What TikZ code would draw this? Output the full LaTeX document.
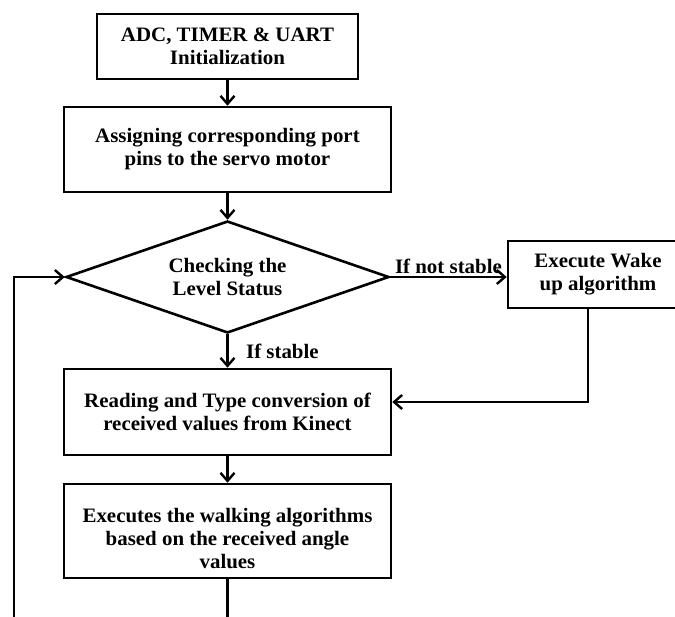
\documentclass[tikz,border=0pt]{standalone}
\usepackage{fontspec}
\setmainfont{Liberation Serif}[FakeStretch=1.02]
\usetikzlibrary{shapes.geometric,arrows.meta}
\begin{document}
\begin{tikzpicture}[x=1pt,y=-1pt,
  lbl/.style={font=\fontsize{20.5}{23}\selectfont\bfseries},
  procbox/.style={draw, line width=2.6pt, inner sep=0pt, align=center, lbl},
  decision/.style={draw, diamond, shape aspect=2.9, line width=2.6pt, inner sep=0pt, align=center, lbl},
  conn/.style={line width=2.6pt},
  arr/.style={conn, -{Straight Barb[length=8pt,width=14pt,line width=2.4pt]}}]
\useasboundingbox (0,0) rectangle (675,617);
\clip (0,0) rectangle (675,617);
\fill[white] (0,0) rectangle (675,617);
\node[procbox, minimum width=261pt, minimum height=65pt] (init) at (227.5,46.5) {ADC, TIMER \& UART\\Initialization};
\node[procbox, minimum width=327pt, minimum height=85pt] (assign) at (227.5,149.5) {Assigning corresponding port\\pins to the servo motor};
\node[decision, minimum width=323pt, minimum height=112pt] (check) at (227.5,277) {Checking the\\Level Status};
\node[procbox, minimum width=180pt, minimum height=67pt] (wake) at (598,274.5) {Execute Wake\\up algorithm};
\node[procbox, minimum width=327pt, minimum height=86pt] (read) at (227.5,412) {Reading and Type conversion of\\received values from Kinect};
\node[procbox, minimum width=327pt, minimum height=94pt] (walk) at (227.5,531) {\rule{0pt}{30pt}Executes the walking algorithms\\based on the received angle\\values};
\coordinate (loopbot) at (14,617);
\coordinate (walkbot) at (227.5,617);
\draw[arr] (init) -- (assign);
\draw[arr] (assign) -- (check);
\draw[arr] (check.east) -- node[above, lbl, inner sep=2pt] {If not stable} (check.east -| wake.west);
\draw[arr] (check) -- node[right, lbl, xshift=14pt] {If stable} (read);
\draw[arr] ([xshift=-10pt]wake.south) |- ([yshift=10pt]read.east);
\draw[arr] (read) -- (walk);
\draw[conn] (walk.south) -- (walkbot);
\draw[arr] (loopbot) |- (check.west);
\end{tikzpicture}
\end{document}
